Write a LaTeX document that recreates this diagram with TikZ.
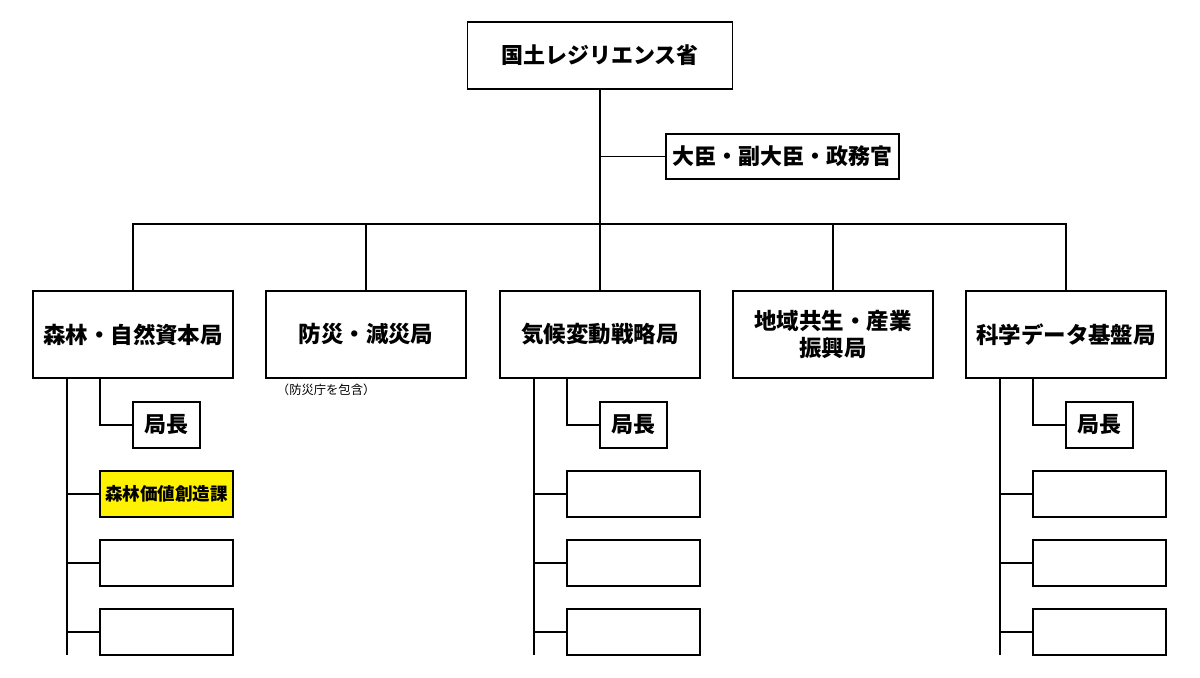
\documentclass[tikz,border=0pt]{standalone}
\usepackage{fontspec}
\setmainfont{Noto Sans CJK JP}
\usetikzlibrary{calc}
\tikzset{
  org/.style={draw, line width=1.1pt, inner sep=0pt, align=center, font=\bfseries\fontsize{12.5}{15}\selectfont},
  bureau/.style={org, minimum width=4cm, minimum height=1.74cm, font=\bfseries\fontsize{12.8}{15}\selectfont},
  chief/.style={org, minimum width=1.34cm, minimum height=0.92cm},
  section/.style={org, minimum width=2.66cm, minimum height=0.92cm, font=\bfseries\fontsize{10}{12}\selectfont},
}
\begin{document}
\begin{tikzpicture}[x=0.02cm, y=-0.02cm, line width=1.1pt]
      \useasboundingbox (0,0) rectangle (1200,678);
      \draw
        (600,55.5) node[org, minimum width=5.3cm, minimum height=1.34cm] (top){国土レジリエンス省}
        (782.5,156.5) node[org, minimum width=4.66cm, minimum height=0.9cm] (min){大臣・副大臣・政務官}
        (133,334.5) node[bureau] (b1){森林・自然資本局}
        (366,334.5) node[bureau] (b2){防災・減災局}
        (600,334.5) node[bureau] (b3){気候変動戦略局}
        (833,334.5) node[bureau] (b4){地域共生・産業\\振興局}
        (1066,334.5) node[bureau] (b5){科学データ基盤局}
        (276,390) node[anchor=west, inner sep=0pt, font=\fontsize{7}{8}\selectfont] (note){（防災庁を包含）}
        (166.5,425) node[chief] (h1){局長}
        (633.5,425) node[chief] (h3){局長}
        (1099.5,425) node[chief] (h5){局長}
        (166.5,494) node[section, fill=yellow] (s11){森林価値創造課}
        (166.5,563) node[section] (s12){}
        (166.5,632) node[section] (s13){}
        (633.5,494) node[section] (s31){}
        (633.5,563) node[section] (s32){}
        (633.5,632) node[section] (s33){}
        (1099.5,494) node[section] (s51){}
        (1099.5,563) node[section] (s52){}
        (1099.5,632) node[section] (s53){};
      \coordinate (bar) at (600,224);
      \coordinate (l1) at (67,655);
      \coordinate (l3) at (534,655);
      \coordinate (l5) at (1000,655);
      % ministry and bureaus
      \begin{scope}
        \draw (top.south) -- (top.south |- bar);
        \draw (top.south |- min.west) -- (min.west);
        \draw (b1.north) -- (b1.north |- bar) -- (b5.north |- bar) -- (b5.north);
        \draw (b2.north) -- (b2.north |- bar);
        \draw (b3.north) -- (b3.north |- bar);
        \draw (b4.north) -- (b4.north |- bar);
      \end{scope}
      % chiefs and sections
      \begin{scope}
        \draw ([xshift=-0.66cm]b1.south) |- (h1.west);
        \draw ([xshift=-0.66cm]b3.south) |- (h3.west);
        \draw ([xshift=-0.66cm]b5.south) |- (h5.west);
        \draw (b1.south -| l1) -- (l1);
        \draw (b3.south -| l3) -- (l3);
        \draw (b5.south -| l5) -- (l5);
        \foreach \s in {s11,s12,s13} \draw (\s.west) -- (\s.west -| l1);
        \foreach \s in {s31,s32,s33} \draw (\s.west) -- (\s.west -| l3);
        \foreach \s in {s51,s52,s53} \draw (\s.west) -- (\s.west -| l5);
      \end{scope}
\end{tikzpicture}
\end{document}
